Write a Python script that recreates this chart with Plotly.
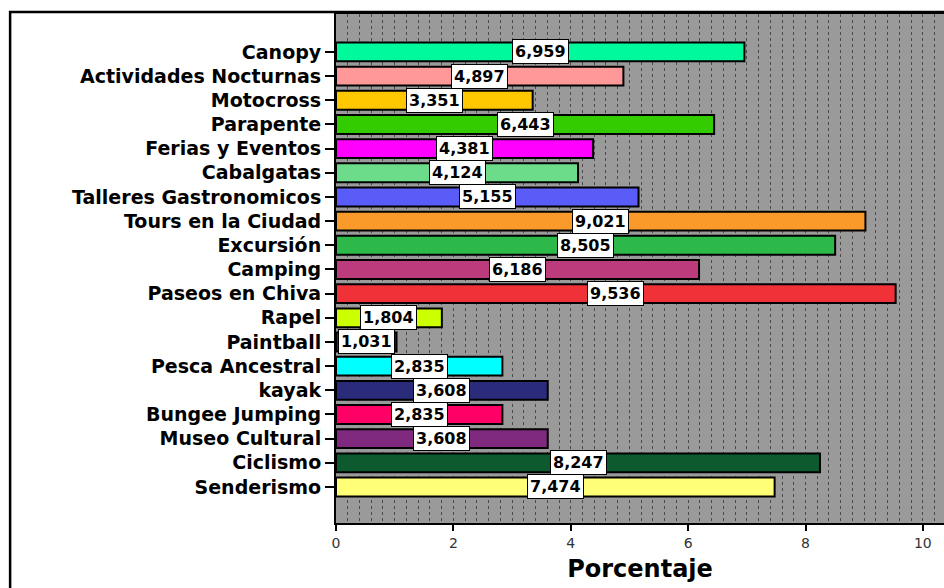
import plotly.graph_objects as go

# Activities, listed bottom to top as drawn on the category axis
actividades = [
    "Senderismo", "Ciclismo", "Museo Cultural", "Bungee Jumping", "kayak",
    "Pesca Ancestral", "Paintball", "Rapel", "Paseos en Chiva", "Camping",
    "Excursión", "Tours en la Ciudad", "Talleres Gastronomicos", "Cabalgatas",
    "Ferias y Eventos", "Parapente", "Motocross", "Actividades Nocturnas", "Canopy",
]
porcentaje = [
    7.474, 8.247, 3.608, 2.835, 3.608,
    2.835, 1.031, 1.804, 9.536, 6.186,
    8.505, 9.021, 5.155, 4.124,
    4.381, 6.443, 3.351, 4.897, 6.959,
]
colores = [
    "#FFFF77", "#0C5A2E", "#7F2A7E", "#FF0066", "#2B2B7C",
    "#00FFFF", "#2B2B7C", "#CCFF00", "#F03238", "#BB3B7C",
    "#2DB84A", "#F99A2A", "#5A5CF8", "#6CDC8A",
    "#FF00FF", "#33CC00", "#FFC800", "#FF9999", "#00F99A",
]

fig = go.Figure(
    go.Bar(
        x=porcentaje,
        y=actividades,
        orientation="h",
        width=0.78,
        marker=dict(color=colores, line=dict(color="#000000", width=2)),
        hoverinfo="skip",
    )
)

# Value boxes centred on each bar
for act, val in zip(actividades, porcentaje):
    fig.add_annotation(
        x=val / 2, y=act, xref="x", yref="y",
        text=f"{val:.3f}".replace(".", ","),
        showarrow=False,
        font=dict(family="DejaVu Sans", size=16, color="#000000", weight="bold"),
        bgcolor="#FFFFFF", bordercolor="#000000", borderwidth=1, borderpad=2,
    )

# Outer chart frame
fig.add_shape(
    type="rect", xref="paper", yref="paper",
    x0=-0.536, x1=1.05, y0=-0.2, y1=1.004,
    line=dict(color="#000000", width=2.5), layer="above",
)

fig.update_layout(
    width=944, height=588,
    margin=dict(l=336, r=0, t=14, b=65),
    paper_bgcolor="#FFFFFF",
    plot_bgcolor="#9A9A9A",
    showlegend=False,
    xaxis=dict(
        range=[0, 10.36],
        tickvals=[0, 2, 4, 6, 8, 10],
        ticks="outside", ticklen=6, tickcolor="#000000", tickwidth=1.5,
        tickfont=dict(family="DejaVu Sans", size=14, color="#333333"),
        showgrid=False,
        showline=True, linecolor="#000000", linewidth=2, mirror=True,
        minor=dict(dtick=0.2, showgrid=True, gridcolor="#4A4A4A",
                   griddash="dot", gridwidth=1),
        title=dict(text="Porcentaje", standoff=10,
                   font=dict(family="DejaVu Sans", size=24, color="#000000",
                             weight="bold")),
        zeroline=False,
        fixedrange=True,
    ),
    yaxis=dict(
        type="category",
        range=[-1.49, 19.57],
        ticks="outside", ticklen=9, tickcolor="#000000", tickwidth=1.5,
        tickfont=dict(family="DejaVu Sans", size=19, color="#000000",
                      weight="bold"),
        ticklabelstandoff=0,
        showgrid=False,
        showline=True, linecolor="#000000", linewidth=2,
        fixedrange=True,
    ),
)

fig.write_html("out.html")
